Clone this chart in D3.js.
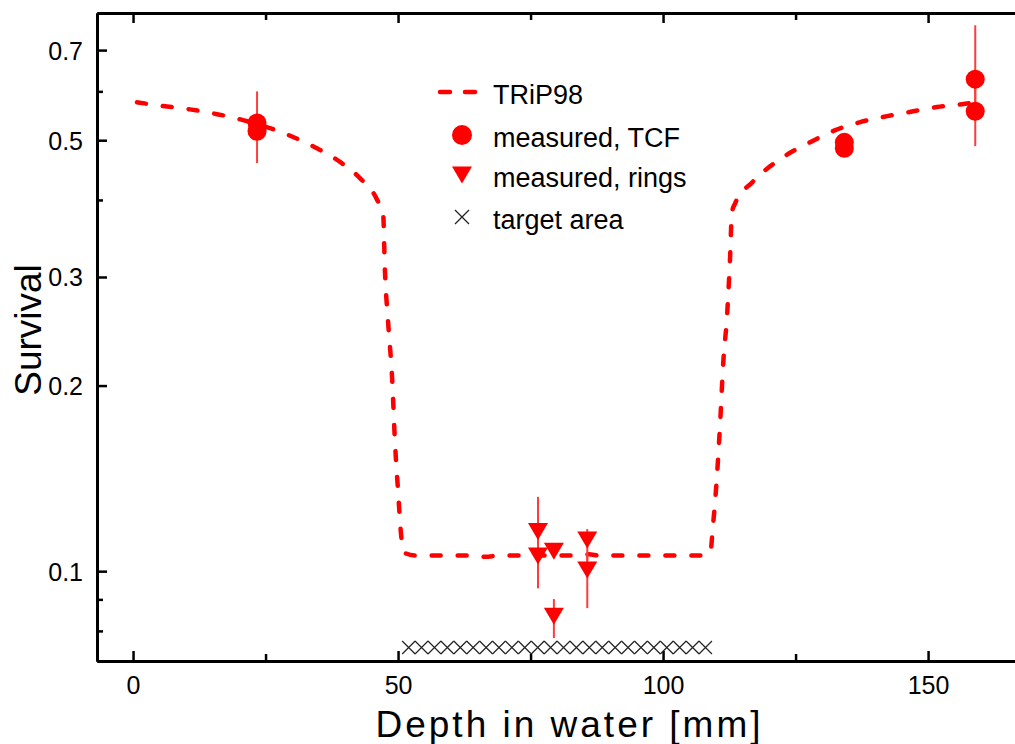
<!DOCTYPE html>
<html>
<head>
<meta charset="utf-8">
<script src="https://cdn.jsdelivr.net/npm/d3@7"></script>
<style>
  html, body { margin: 0; padding: 0; background: #fff; }
  svg { display: block; }
  text { font-family: "Liberation Sans", Arial, sans-serif; fill: #000; }
</style>
</head>
<body>
<svg id="chart" width="1015" height="744"></svg>
<script>
// ---- data ----
const curveDepth = [0.75, 5.7, 10.75, 15.85, 20.75, 25.85, 30.2, 34.7, 39.05, 42.8, 46.0, 47.2, 47.5, 48.1, 48.9, 49.4, 50.0, 50.6, 51.3, 53.2, 60.0, 64.0, 66.5, 69.0, 80.0, 84.5, 86.0, 88.0, 100.0, 107.4, 108.9, 109.4, 110.2, 110.8, 111.3, 112.1, 112.6, 113.0, 113.6, 116.8, 122.6, 127.7, 132.5, 137.2, 142.3, 147.2, 151.7, 156.4, 158.5];
const curveSurvival = [0.576, 0.568, 0.561, 0.551, 0.539, 0.523, 0.506, 0.485, 0.461, 0.434, 0.401, 0.378, 0.311, 0.255, 0.204, 0.163, 0.135, 0.114, 0.107, 0.106, 0.106, 0.106, 0.1055, 0.106, 0.106, 0.106, 0.1065, 0.106, 0.106, 0.106, 0.107, 0.118, 0.144, 0.176, 0.214, 0.262, 0.316, 0.382, 0.395, 0.427, 0.469, 0.496, 0.519, 0.535, 0.547, 0.557, 0.566, 0.572, 0.575];

const tcfDepth    = [23.4, 23.4, 134.2, 134.2, 158.9, 158.9];
const tcfSurvival = [0.533, 0.517, 0.496, 0.485, 0.628, 0.557];
const tcfLow      = [0.500, 0.459, 0.496, 0.485, 0.540, 0.489];
const tcfHigh     = [0.600, 0.545, 0.496, 0.485, 0.768, 0.630];

const ringDepth    = [76.4, 76.4, 79.4, 85.7, 85.7, 79.4];
const ringSurvival = [0.116, 0.1058, 0.1077, 0.1123, 0.1004, 0.0845];
const ringLow      = [0.104, 0.0938, 0.1077, 0.104, 0.0871, 0.0779];
const ringHigh     = [0.132, 0.118, 0.1077, 0.117, 0.1065, 0.0901];

const targetDepth = [52.0, 54.43, 56.87, 59.30, 61.74, 64.17, 66.61, 69.04, 71.48, 73.91, 76.35, 78.78, 81.22, 83.65, 86.09, 88.52, 90.96, 93.39, 95.83, 98.26, 100.70, 103.13, 105.57, 108.0];
const targetSurvival = 0.0752;

const xMajorTicks = [0, 50, 100, 150];
const xMinorTicks = [25, 75, 125];
const yMajorTicks = [0.1, 0.2, 0.3, 0.5, 0.7];
const yMinorTicks = [0.08, 0.09, 0.4, 0.6];

const legendLabels = ["TRiP98", "measured, TCF", "measured, rings", "target area"];

// ---- layout ----
const svg = d3.select("#chart");
const mLeft = 97, mRight = 1015, mTop = 13, mBottom = 661;
const x = d3.scaleLinear().domain([-6.8, 166.4]).range([mLeft, mRight]);
const y = d3.scaleLog().domain([0.0715, 0.804]).range([mBottom, mTop]);
const RED = "#ff0000";

// axes
const fmtX = d3.format("d");
const bottomAxis = svg.append("g").attr("transform", `translate(0,${mBottom})`)
  .call(d3.axisBottom(x).tickValues(xMajorTicks).tickSizeInner(-10).tickSizeOuter(0).tickPadding(14).tickFormat(fmtX));
svg.append("g").attr("transform", `translate(0,${mBottom})`)
  .call(d3.axisBottom(x).tickValues(xMinorTicks).tickSizeInner(-7).tickSizeOuter(0).tickFormat(""));
svg.append("g").attr("transform", `translate(0,${mTop})`)
  .call(d3.axisTop(x).tickValues(xMajorTicks).tickSizeInner(-10).tickSizeOuter(0).tickFormat(""));
svg.append("g").attr("transform", `translate(0,${mTop})`)
  .call(d3.axisTop(x).tickValues(xMinorTicks).tickSizeInner(-7).tickSizeOuter(0).tickFormat(""));
const leftAxis = svg.append("g").attr("transform", `translate(${mLeft},0)`)
  .call(d3.axisLeft(y).tickValues(yMajorTicks).tickSizeInner(-10).tickSizeOuter(0).tickPadding(14).tickFormat(d3.format(".1f")));
svg.append("g").attr("transform", `translate(${mLeft},0)`)
  .call(d3.axisLeft(y).tickValues(yMinorTicks).tickSizeInner(-6).tickSizeOuter(0).tickFormat(""));

svg.selectAll(".domain").attr("stroke", "#000").attr("stroke-width", 3);
svg.selectAll(".tick line").attr("stroke", "#000").attr("stroke-width", 2.5);
svg.selectAll(".tick text").style("font-size", "25px").style("font-family", "'Liberation Sans', Arial, sans-serif").attr("fill", "#000");
bottomAxis.selectAll(".tick text").attr("dy", "0.75em");
leftAxis.selectAll(".tick text").attr("dy", "0.36em");

// axis titles
svg.append("text")
  .attr("x", 568).attr("y", 737)
  .attr("text-anchor", "middle")
  .attr("textLength", 385).attr("lengthAdjust", "spacing")
  .style("font-size", "37px")
  .text("Depth in water [mm]");
svg.append("text")
  .attr("transform", "translate(41,330) rotate(-90)")
  .attr("text-anchor", "middle")
  .style("font-size", "37px")
  .text("Survival");

// target area crosses
const cs = 6.5;
const crosses = svg.append("g");
targetDepth.forEach(d => {
  const cx = x(d), cy = y(targetSurvival);
  crosses.append("path")
    .attr("d", `M${cx - cs},${cy - cs}L${cx + cs},${cy + cs}M${cx - cs},${cy + cs}L${cx + cs},${cy - cs}`)
    .attr("stroke", "#222").attr("stroke-width", 1.2).attr("fill", "none");
});

// model curve
const curvePts = curveDepth.map((d, i) => [d, curveSurvival[i]]);
svg.append("path")
  .datum(curvePts)
  .attr("d", d3.line().x(d => x(d[0])).y(d => y(d[1])).curve(d3.curveMonotoneX))
  .attr("fill", "none").attr("stroke", RED).attr("stroke-width", 4.5)
  .attr("stroke-dasharray", "9,17").attr("stroke-linecap", "round");

// error bars
const eb = svg.append("g").attr("stroke", "#ff3b3b").attr("stroke-width", 2);
tcfDepth.forEach((d, i) => {
  if (tcfHigh[i] > tcfLow[i]) eb.append("line").attr("x1", x(d)).attr("x2", x(d)).attr("y1", y(tcfLow[i])).attr("y2", y(tcfHigh[i]));
});
ringDepth.forEach((d, i) => {
  if (ringHigh[i] > ringLow[i]) eb.append("line").attr("x1", x(d)).attr("x2", x(d)).attr("y1", y(ringLow[i])).attr("y2", y(ringHigh[i]));
});

// markers
const tri = "M-10,-8.5L10,-8.5L0,8.5Z";
svg.append("g").selectAll("circle").data(tcfDepth).join("circle")
  .attr("cx", d => x(d)).attr("cy", (d, i) => y(tcfSurvival[i])).attr("r", 9.5).attr("fill", RED);
svg.append("g").selectAll("path").data(ringDepth).join("path")
  .attr("d", tri)
  .attr("transform", (d, i) => `translate(${x(d)},${y(ringSurvival[i])})`)
  .attr("fill", RED);

// legend
const lg = svg.append("g");
const rowY = [92, 135, 175, 217];
const symX = 462, textX = 493;
lg.append("line").attr("x1", 438).attr("x2", 478).attr("y1", rowY[0]).attr("y2", rowY[0])
  .attr("stroke", RED).attr("stroke-width", 4.5).attr("stroke-dasharray", "10,15").attr("stroke-linecap", "round")
  .attr("transform", "translate(2,0)");
lg.append("circle").attr("cx", symX).attr("cy", rowY[1]).attr("r", 10).attr("fill", RED);
lg.append("path").attr("d", tri).attr("transform", `translate(${symX},${rowY[2]})`).attr("fill", RED);
lg.append("path")
  .attr("d", `M${symX - 7},${rowY[3] - 7}L${symX + 7},${rowY[3] + 7}M${symX - 7},${rowY[3] + 7}L${symX + 7},${rowY[3] - 7}`)
  .attr("stroke", "#222").attr("stroke-width", 1.3);
legendLabels.forEach((t, i) => {
  lg.append("text").attr("x", textX).attr("y", rowY[i] + 12).style("font-size", "27px").text(t);
});
</script>
</body>
</html>
